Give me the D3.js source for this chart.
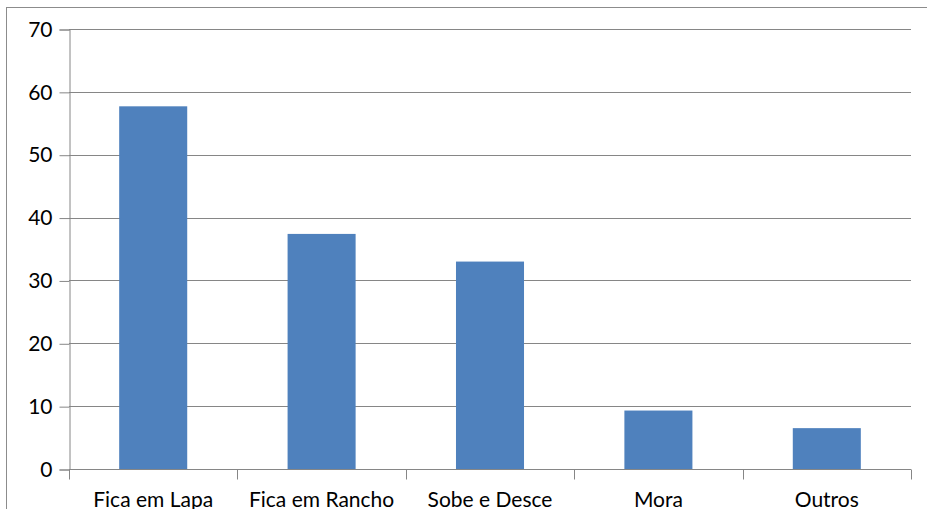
<!DOCTYPE html>
<html>
<head>
<meta charset="utf-8">
<script src="https://cdn.jsdelivr.net/npm/d3@7"></script>
<style>
  html, body { margin: 0; padding: 0; background: #fff; }
  svg { display: block; }
  text { font-family: Lato, "Open Sans", sans-serif; fill: #000; }
</style>
</head>
<body>
<svg id="chart" width="927" height="509"></svg>
<script>
const categories = ["Fica em Lapa", "Fica em Rancho", "Sobe e Desce", "Mora", "Outros"];
const values = [57.7, 37.4, 33.0, 9.3, 6.5];
const yTicks = [0, 10, 20, 30, 40, 50, 60, 70];

const svg = d3.select("#chart");
const plot = { left: 69, right: 911, top: 29, bottom: 469 };
const FONT = 21;

// outer chart frame
svg.append("rect")
  .attr("x", 6.5).attr("y", 7.5)
  .attr("width", 930).attr("height", 520)
  .attr("fill", "none").attr("stroke", "#8c8c8c").attr("stroke-width", 1);

const x = d3.scaleBand()
  .domain(categories)
  .range([plot.left, plot.right])
  .paddingInner(0.596)
  .paddingOuter(0.298);

const y = d3.scaleLinear()
  .domain([0, 70])
  .range([plot.bottom, plot.top]);

// horizontal gridlines
svg.append("g")
  .selectAll("line")
  .data(yTicks.filter(d => d > 0))
  .join("line")
  .attr("x1", plot.left).attr("x2", plot.right)
  .attr("y1", d => Math.round(y(d)) + 0.5)
  .attr("y2", d => Math.round(y(d)) + 0.5)
  .attr("stroke", "#868686").attr("stroke-width", 1);

// bars
svg.append("g")
  .selectAll("rect")
  .data(values)
  .join("rect")
  .attr("x", (d, i) => x(categories[i]))
  .attr("width", x.bandwidth())
  .attr("y", d => y(d))
  .attr("height", d => y(0) - y(d))
  .attr("fill", "#4F81BD");

// y axis
const yAxis = d3.axisLeft(y)
  .tickValues(yTicks)
  .tickSize(10)
  .tickPadding(7)
  .tickFormat(d3.format("d"));
const gy = svg.append("g")
  .attr("transform", `translate(${plot.left + 0.5},0.5)`)
  .call(yAxis);
gy.select(".domain").attr("stroke", "#868686");
gy.selectAll(".tick line").attr("stroke", "#868686");
gy.selectAll(".tick text")
  .attr("font-size", FONT)
  .attr("fill", "#000")
  .attr("font-family", "Lato, 'Open Sans', sans-serif");

// x axis: ticks sit on category boundaries
const gx = svg.append("g")
  .attr("transform", `translate(0,${plot.bottom + 0.5})`);
gx.append("line")
  .attr("x1", plot.left).attr("x2", plot.right)
  .attr("stroke", "#868686");
const step = x.step();
const bounds = d3.range(categories.length + 1).map(i => plot.left + i * step);
gx.selectAll("line.tk")
  .data(bounds)
  .join("line")
  .attr("class", "tk")
  .attr("x1", d => Math.round(d) + 0.5).attr("x2", d => Math.round(d) + 0.5)
  .attr("y1", 0).attr("y2", 10)
  .attr("stroke", "#868686");
gx.selectAll("text")
  .data(categories)
  .join("text")
  .attr("x", d => x(d) + x.bandwidth() / 2)
  .attr("y", 37)
  .attr("text-anchor", "middle")
  .attr("font-size", FONT)
  .text(d => d);
</script>
</body>
</html>
